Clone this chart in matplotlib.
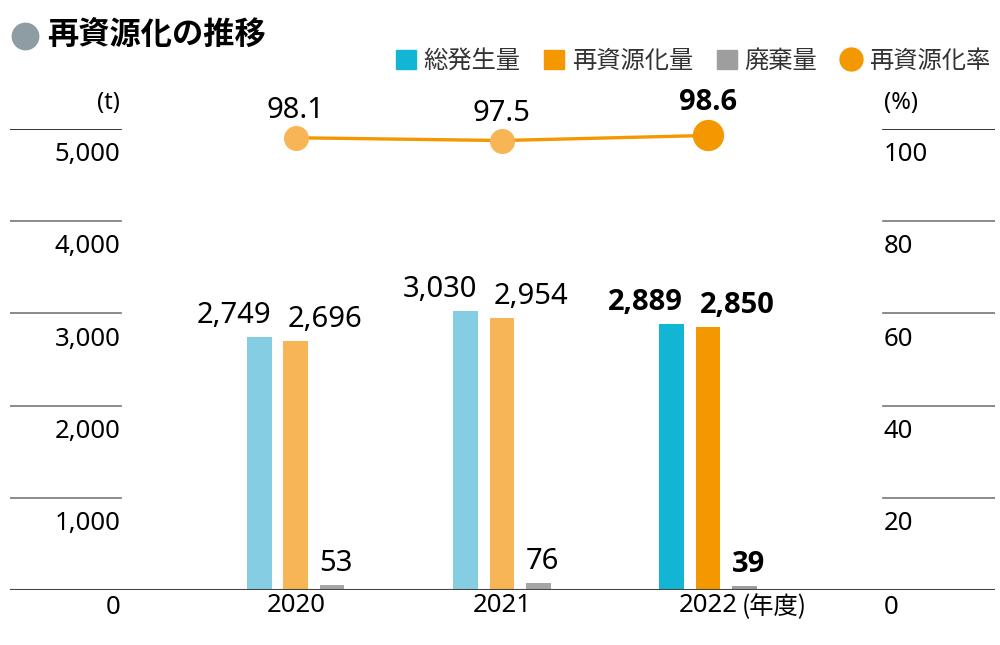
import matplotlib.pyplot as plt
from matplotlib.patches import Patch
from matplotlib.lines import Line2D
import numpy as np

plt.rcParams["font.family"] = ["Noto Sans", "Noto Sans CJK JP", "DejaVu Sans"]
BOLD_FAMILY = ["Open Sans", "Noto Sans CJK JP", "DejaVu Sans"]

years = ["2020", "2021", "2022"]
total = [2749, 3030, 2889]
recycled = [2696, 2954, 2850]
waste = [53, 76, 39]
rate = [98.1, 97.5, 98.6]
left_ticks = [0, 1000, 2000, 3000, 4000, 5000]
right_ticks = [0, 20, 40, 60, 80, 100]

# faded colours for past years, full colours for the latest year
cyan = ["#85cde3", "#85cde3", "#13b5d5"]
orange = ["#f8b555", "#f8b555", "#f39800"]
gray = ["#a6a6a6", "#a6a6a6", "#9e9e9e"]
rate_colors = ["#f8b555", "#f8b555", "#f39800"]

fig = plt.figure(figsize=(10, 6.45), dpi=100)
ax = fig.add_axes([0.01, 55 / 645, 0.985, 461 / 645])
ax2 = ax.twinx()

x = np.arange(len(years))
step = 0.175
width = 0.121

ax.bar(x - step, total, width, color=cyan)
ax.bar(x, recycled, width, color=orange)
ax.bar(x + step, waste, width, color=gray)

ax.set_xlim(-1.388, 3.393)
ax.set_ylim(0, 5000)
ax2.set_ylim(0, 100)

for a in (ax, ax2):
    for s in a.spines.values():
        s.set_visible(False)
    a.set_yticks([])
    a.tick_params(length=0)

ax.set_xticks(x)
ax.set_xticklabels(years, fontsize=18.5)
ax.tick_params(axis="x", pad=2)
ax.axhline(0, color="#444444", lw=1.5)
ax.annotate("(年度)", xy=(2, 0), xycoords=ax.get_xaxis_transform(),
            xytext=(24, -12.5), textcoords="offset points",
            ha="left", va="center", fontsize=17.5,
            family=["Noto Sans CJK JP"])

# short grid segments at both sides with their labels underneath
ytr = ax.get_yaxis_transform()
for v, r in zip(left_ticks, right_ticks):
    if v > 0:
        c = "#111111" if v == 5000 else "#777777"
        ax.plot([0, 0.113], [v, v], color=c, lw=1.2, transform=ytr)
        ax.plot([0.886, 1], [v, v], color=c, lw=1.2, transform=ytr)
        dy = -18.5
    else:
        dy = -12.5
    ax.annotate(f"{v:,}", xy=(0.112, v), xycoords=ytr, xytext=(0, dy),
                textcoords="offset points", ha="right", va="center",
                fontsize=18.5)
    ax.annotate(f"{r}", xy=(0.887, v), xycoords=ytr, xytext=(0, dy),
                textcoords="offset points", ha="left", va="center",
                fontsize=18.5)

ax.annotate("(t)", xy=(0.112, 5000), xycoords=ytr, xytext=(0, 19),
            textcoords="offset points", ha="right", va="center", fontsize=17)
ax.annotate("(%)", xy=(0.887, 5000), xycoords=ytr, xytext=(0, 19),
            textcoords="offset points", ha="left", va="center", fontsize=17)


def label_style(i):
    """Latest year is labelled in bold."""
    if i == 2:
        return {"fontweight": "bold", "family": BOLD_FAMILY}
    return {}


# value labels
for i in range(len(years)):
    st = label_style(i)
    ax.annotate(f"{total[i]:,}", xy=(x[i] - step + width / 2, total[i]),
                xytext=(-1, 5), textcoords="offset points", ha="right",
                va="bottom", fontsize=21, **st)
    ax.annotate(f"{recycled[i]:,}", xy=(x[i] - width / 2, recycled[i]),
                xytext=(3, 5), textcoords="offset points", ha="left",
                va="bottom", fontsize=21, **st)
    ax.annotate(f"{waste[i]}", xy=(x[i] + step - width / 2, waste[i]),
                xytext=(0, 5), textcoords="offset points", ha="left",
                va="bottom", fontsize=21, **st)

# recycling rate line
ax2.plot(x, rate, color="#f39800", lw=2.4, zorder=3, clip_on=False)
for i in range(len(years)):
    big = i == 2
    ax2.plot(x[i], rate[i], "o", color=rate_colors[i],
             markersize=21.5 if big else 17, zorder=4, clip_on=False)
    ax2.annotate(f"{rate[i]}", xy=(x[i], rate[i]),
                 xytext=(0, 13 if big else 9), textcoords="offset points",
                 ha="center", va="bottom", fontsize=21, **label_style(i))

# title
fig.add_artist(Line2D([0.025], [1 - 36 / 645], marker="o", markersize=19,
                      color="#8e9da3", transform=fig.transFigure))
fig.text(0.047, 1 - 36 / 645, "再資源化の推移", fontsize=22.5,
         fontweight="bold", ha="left", va="center",
         family=["Noto Sans CJK JP"])

handles = [
    Patch(color="#13b5d5", label="総発生量"),
    Patch(color="#f39800", label="再資源化量"),
    Patch(color="#9e9e9e", label="廃棄量"),
    Line2D([], [], marker="o", ls="none", color="#f39800",
           markersize=16.5, label="再資源化率"),
]
fig.legend(handles=handles, loc="center right",
           bbox_to_anchor=(0.99, 1 - 61 / 645), ncol=4, frameon=False,
           handlelength=0.82, handleheight=0.82,
           handletextpad=0.3, columnspacing=1.0, borderpad=0,
           borderaxespad=0, labelcolor="#333333",
           prop={"family": ["Noto Sans CJK JP"], "size": 17.5})

fig.savefig("out.png", dpi=100)
